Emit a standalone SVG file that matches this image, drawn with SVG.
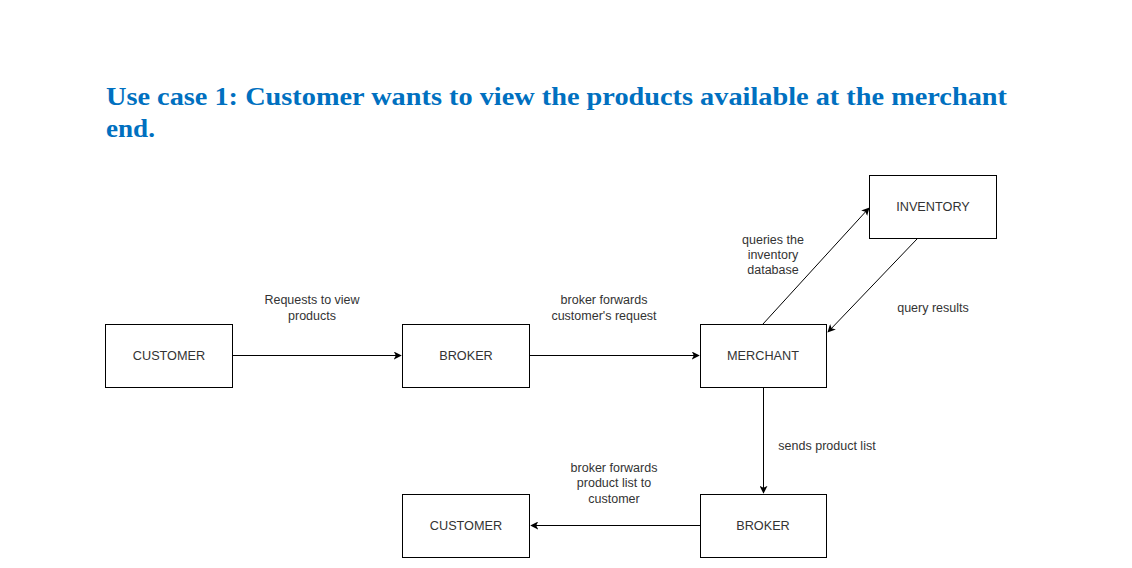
<svg xmlns="http://www.w3.org/2000/svg" width="1132" height="568" viewBox="0 0 1132 568">
<defs>
<style>
.title{font-family:"Liberation Serif","Times New Roman",serif;font-weight:bold;font-size:26px;fill:#0070C0}
.box{fill:#fff;stroke:#000;stroke-width:1}
.nt{font-family:"Liberation Sans",Arial,sans-serif;font-size:12.7px;fill:#333;text-anchor:middle}
.lb{font-family:"Liberation Sans",Arial,sans-serif;font-size:12.5px;fill:#333;text-anchor:middle}
.edge{stroke:#000;stroke-width:1;fill:none;marker-end:url(#ah)}
</style>
<marker id="ah" viewBox="0 0 10 10" refX="9" refY="5" markerWidth="8" markerHeight="8" markerUnits="userSpaceOnUse" orient="auto">
<path d="M0,0 L10,5 L0,10 L2.5,5 z" fill="#000"/>
</marker>
</defs>
<rect width="1132" height="568" fill="#fff"/>
<text class="title" x="106" y="105" textLength="901" lengthAdjust="spacingAndGlyphs">Use case 1: Customer wants to view the products available at the merchant</text>
<text class="title" x="106" y="137" textLength="49" lengthAdjust="spacingAndGlyphs">end.</text>

<g id="edges">
<line class="edge" x1="233" y1="355.5" x2="401" y2="355.5"/>
<line class="edge" x1="530" y1="355.5" x2="699" y2="355.5"/>
<line class="edge" x1="763" y1="324" x2="869" y2="208"/>
<line class="edge" x1="917" y1="239" x2="828" y2="332"/>
<line class="edge" x1="763.5" y1="388" x2="763.5" y2="493"/>
<line class="edge" x1="700" y1="525.5" x2="531" y2="525.5"/>
<text class="lb" x="312" y="304">Requests to view</text>
<text class="lb" x="312" y="320">products</text>
<text class="lb" x="604" y="304">broker forwards</text>
<text class="lb" x="604" y="320">customer's request</text>
<text class="lb" x="773" y="244">queries the</text>
<text class="lb" x="773" y="259">inventory</text>
<text class="lb" x="773" y="274">database</text>
<text class="lb" x="933" y="312">query results</text>
<text class="lb" x="827" y="450">sends product list</text>
<text class="lb" x="614" y="472">broker forwards</text>
<text class="lb" x="614" y="487">product list to</text>
<text class="lb" x="614" y="503">customer</text>
</g>

<g id="customer1"><rect class="box" x="105.5" y="324.5" width="127" height="63"/><text class="nt" x="169" y="360">CUSTOMER</text></g>
<g id="broker1"><rect class="box" x="402.5" y="324.5" width="127" height="63"/><text class="nt" x="466" y="360">BROKER</text></g>
<g id="merchant"><rect class="box" x="700.5" y="324.5" width="126" height="63"/><text class="nt" x="763" y="360">MERCHANT</text></g>
<g id="inventory"><rect class="box" x="869.5" y="175.5" width="127" height="63"/><text class="nt" x="933" y="211">INVENTORY</text></g>
<g id="broker2"><rect class="box" x="700.5" y="494.5" width="126" height="63"/><text class="nt" x="763" y="530">BROKER</text></g>
<g id="customer2"><rect class="box" x="402.5" y="494.5" width="127" height="63"/><text class="nt" x="466" y="530">CUSTOMER</text></g>
</svg>
